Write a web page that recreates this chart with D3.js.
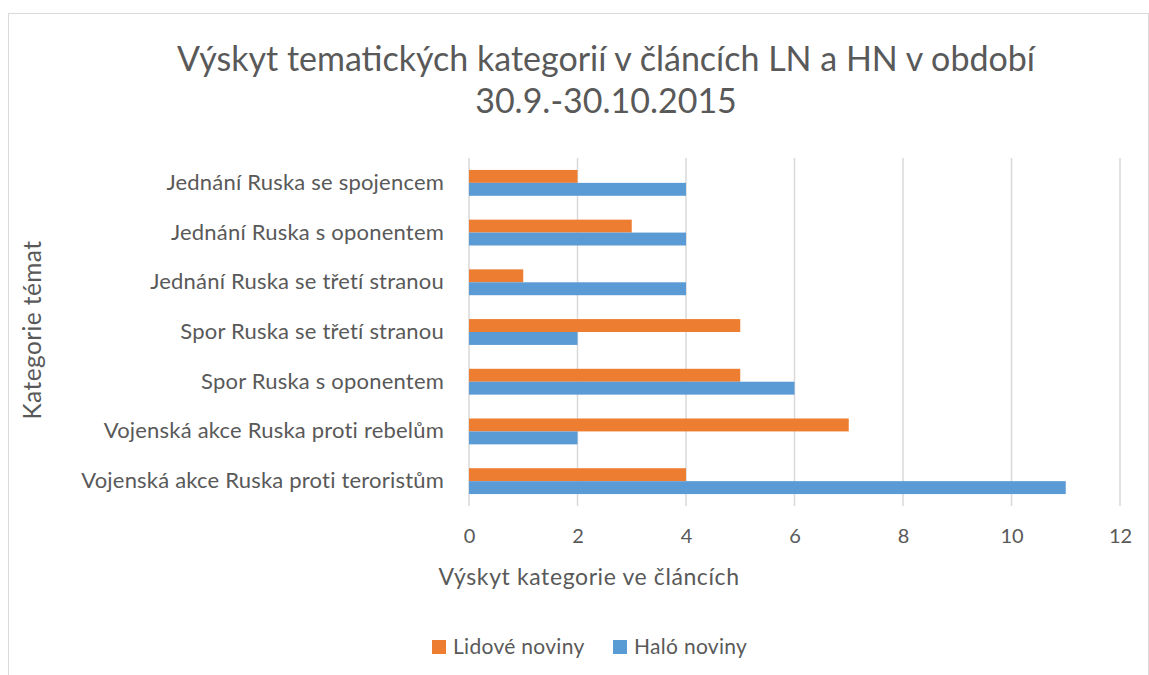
<!DOCTYPE html>
<html>
<head>
<meta charset="utf-8">
<script src="https://cdn.jsdelivr.net/npm/d3@7"></script>
<style>
  body { margin: 0; background: #fff; }
  text { font-family: Lato, sans-serif; fill: #595959; }
</style>
</head>
<body>
<div id="chart"></div>
<script>
// categories, top to bottom
const categories = [
  "Jednání Ruska se spojencem",
  "Jednání Ruska s oponentem",
  "Jednání Ruska se třetí stranou",
  "Spor Ruska se třetí stranou",
  "Spor Ruska s oponentem",
  "Vojenská akce Ruska proti rebelům",
  "Vojenská akce Ruska proti teroristům"
];
const seriesNames = ["Lidové noviny", "Haló noviny"];
const lidove = [2, 3, 1, 5, 5, 7, 4];
const halo = [4, 4, 4, 2, 6, 2, 11];
const xTicks = [0, 2, 4, 6, 8, 10, 12];
const colors = ["#ED7D31", "#5B9BD5"];

const width = 1149;
const height = 675;
const margin = { top: 158, right: 29, bottom: 169, left: 469 };

const svg = d3.select("#chart")
  .append("svg")
  .attr("width", width)
  .attr("height", height);

// chart frame
svg.append("rect")
  .attr("x", 8.5).attr("y", 13.5)
  .attr("width", 1140).attr("height", 670)
  .attr("fill", "none")
  .attr("stroke", "#d9d9d9");

const x = d3.scaleLinear().domain([0, 12]).range([margin.left, width - margin.right]);
const y = d3.scaleBand().domain(categories).range([margin.top, height - margin.bottom]).paddingInner(0.48).paddingOuter(0.24);
const ySub = d3.scaleBand().domain(seriesNames).range([0, y.bandwidth()]);

// gridlines
svg.append("g")
  .selectAll("line")
  .data(xTicks)
  .enter()
  .append("line")
  .attr("x1", d => x(d)).attr("x2", d => x(d))
  .attr("y1", margin.top).attr("y2", height - margin.bottom)
  .attr("stroke", "#d9d9d9")
  .attr("stroke-width", 1.5);

// bars
const rows = categories.map((c, i) => ({ cat: c, vals: [lidove[i], halo[i]] }));
const groups = svg.append("g")
  .selectAll("g")
  .data(rows)
  .enter()
  .append("g")
  .attr("transform", d => `translate(0,${y(d.cat)})`);

groups.selectAll("rect")
  .data(d => d.vals.map((v, j) => ({ name: seriesNames[j], v, j })))
  .enter()
  .append("rect")
  .attr("x", x(0))
  .attr("y", d => ySub(d.name))
  .attr("width", d => x(d.v) - x(0))
  .attr("height", ySub.bandwidth())
  .attr("fill", d => colors[d.j]);

// x axis labels
const xAxis = svg.append("g")
  .attr("transform", `translate(0,${height - margin.bottom})`)
  .call(d3.axisBottom(x).tickValues(xTicks).tickSize(0).tickPadding(23));
xAxis.select(".domain").remove();
xAxis.selectAll("text").style("font-size", "20px").attr("fill", "#595959").style("font-family", "Lato");

// y axis labels
const yAxis = svg.append("g")
  .attr("transform", `translate(${margin.left},0)`)
  .call(d3.axisLeft(y).tickSize(0).tickPadding(25));
yAxis.select(".domain").remove();
yAxis.selectAll("text")
  .style("font-size", "22px")
  .style("letter-spacing", "0.2px")
  .attr("fill", "#595959")
  .style("font-family", "Lato");

// title
svg.append("text")
  .attr("x", 606).attr("y", 71)
  .attr("text-anchor", "middle")
  .style("font-size", "34px")
  .text("Výskyt tematických kategorií v článcích LN a HN v období");
svg.append("text")
  .attr("x", 606).attr("y", 113)
  .attr("text-anchor", "middle")
  .style("font-size", "34px")
  .text("30.9.-30.10.2015");

// axis titles
svg.append("text")
  .attr("x", 589).attr("y", 585)
  .attr("text-anchor", "middle")
  .style("font-size", "23px")
  .style("letter-spacing", "0.6px")
  .text("Výskyt kategorie ve článcích");

svg.append("text")
  .attr("transform", "translate(41,330) rotate(-90)")
  .attr("text-anchor", "middle")
  .style("font-size", "24.5px")
  .style("letter-spacing", "0.4px")
  .text("Kategorie témat");

// legend
const legend = svg.append("g")
  .selectAll("g")
  .data(seriesNames)
  .enter()
  .append("g")
  .attr("transform", (d, i) => `translate(${[432, 613][i]},640)`);
legend.append("rect")
  .attr("width", 14).attr("height", 14)
  .attr("fill", (d, i) => colors[i]);
legend.append("text")
  .attr("x", 21).attr("y", 14)
  .style("font-size", "21px")
  .style("letter-spacing", "0.3px")
  .text(d => d);
</script>
</body>
</html>
